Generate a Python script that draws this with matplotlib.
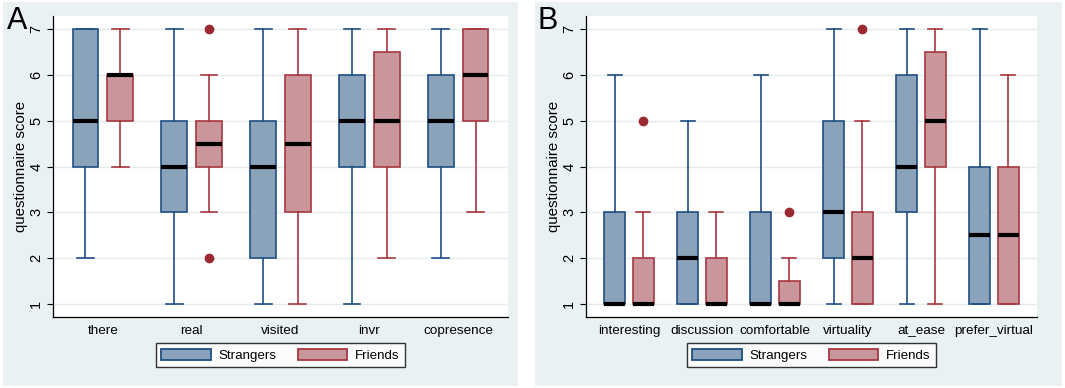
import matplotlib
matplotlib.use("Agg")
import matplotlib.pyplot as plt
from matplotlib.patches import Rectangle, Patch

plt.rcParams['font.family'] = ['Liberation Sans', 'DejaVu Sans']

# panel A items, five-number summaries (whislo, q1, median, q3, whishi)
items_a = ['there', 'real', 'visited', 'invr', 'copresence']
str_a = [[2, 4, 5, 7, 7], [1, 3, 4, 5, 7], [1, 2, 4, 5, 7], [1, 4, 5, 6, 7], [2, 4, 5, 6, 7]]
fri_a = [[4, 5, 6, 6, 7], [3, 4, 4.5, 5, 6], [1, 3, 4.5, 6, 7], [2, 4, 5, 6.5, 7], [3, 5, 6, 7, 7]]
fli_str_a = [[], [], [], [], []]
fli_fri_a = [[], [7, 2], [], [], []]

# panel B items
items_b = ['interesting', 'discussion', 'comfortable', 'virtuality', 'at_ease', 'prefer_virtual']
str_b = [[1, 1, 1, 3, 6], [1, 1, 2, 3, 5], [1, 1, 1, 3, 6], [1, 2, 3, 5, 7], [1, 3, 4, 6, 7], [1, 1, 2.5, 4, 7]]
fri_b = [[1, 1, 1, 2, 3], [1, 1, 1, 2, 3], [1, 1, 1, 1.5, 2], [1, 1, 2, 3, 5], [1, 4, 5, 6.5, 7], [1, 1, 2.5, 4, 6]]
fli_str_b = [[], [], [], [], [], []]
fli_fri_b = [[5], [], [3], [7], [], []]

groups = ['Strangers', 'Friends']
fills = ['#8ba3ba', '#c8969b']
edges = ['#1f4e85', '#a83740']
flier_col = '#9b2a30'
panel_bg = '#eaf1f3'

fig = plt.figure(figsize=(10.65, 3.88), dpi=100)
W, H = 1065, 388

# panel backgrounds
fig.patches.append(Rectangle((3 / W, 2 / H), 515 / W, 384 / H, transform=fig.transFigure,
                             facecolor=panel_bg, edgecolor='none', zorder=-5))
fig.patches.append(Rectangle((535 / W, 2 / H), 527 / W, 384 / H, transform=fig.transFigure,
                             facecolor=panel_bg, edgecolor='none', zorder=-5))


def to_stats(five, fl):
    return dict(whislo=five[0], q1=five[1], med=five[2], q3=five[3], whishi=five[4], fliers=fl)


def draw_panel(rect, items, s_data, f_data, s_fl, f_fl, letter, lx):
    ax = fig.add_axes(rect)
    ax.set_zorder(2)
    ax.set_facecolor('white')
    n = len(items)
    for k, (data, fl) in enumerate([(s_data, s_fl), (f_data, f_fl)]):
        stats = [to_stats(d, f) for d, f in zip(data, fl)]
        pos = [i + (-0.195 if k == 0 else 0.195) for i in range(n)]
        ax.bxp(stats, positions=pos, widths=0.29, patch_artist=True, showfliers=True,
               capwidths=0.19,
               boxprops=dict(facecolor=fills[k], edgecolor=edges[k], linewidth=1.2),
               whiskerprops=dict(color=edges[k], linewidth=1.2),
               capprops=dict(color=edges[k], linewidth=1.2),
               medianprops=dict(color='black', linewidth=3.0, solid_capstyle='butt'),
               flierprops=dict(marker='o', markerfacecolor=flier_col, markeredgecolor=flier_col,
                               markersize=6),
               zorder=3)
    pad = 0.56 if n == 5 else 0.59
    ax.set_xlim(-pad, n - 1 + pad)
    ax.set_ylim(0.72, 7.28)
    ax.set_xticks(range(n))
    ax.set_xticklabels(items, fontsize=9.7)
    ax.tick_params(axis='x', length=0, pad=6)
    ax.set_yticks(range(1, 8))
    ax.set_yticklabels([str(v) for v in range(1, 8)], rotation=90, va='center', fontsize=10.5)
    ax.tick_params(axis='y', length=4, width=0.8, pad=3)
    ax.yaxis.grid(True, color='#e3ecef', linewidth=1.0, zorder=0)
    ax.set_axisbelow(True)
    ax.set_ylabel('questionnaire score', fontsize=10.8, labelpad=1)
    for sp in ['top', 'right']:
        ax.spines[sp].set_visible(False)
    for sp in ['left', 'bottom']:
        ax.spines[sp].set_linewidth(0.9)
    handles = [Patch(facecolor=fills[i], edgecolor=edges[i], linewidth=1.3) for i in range(2)]
    leg = ax.legend(handles, groups, loc='center', bbox_to_anchor=(0.5, -0.127), ncol=2,
                    fontsize=9.6, frameon=True, fancybox=False, edgecolor='black',
                    handlelength=3.7, handleheight=0.9, columnspacing=1.6, handletextpad=0.6,
                    borderpad=0.4, borderaxespad=0)
    leg.get_frame().set_linewidth(1.0)
    fig.text(lx, 0.925, letter, fontsize=22)
    return ax


draw_panel([53 / W, 71 / H, 455 / W, 301 / H], items_a, str_a, fri_a, fli_str_a, fli_fri_a, 'A', 7 / W)
draw_panel([586 / W, 71 / H, 451 / W, 301 / H], items_b, str_b, fri_b, fli_str_b, fli_fri_b, 'B', 537 / W)

fig.savefig('out.png', dpi=100, facecolor='white')
